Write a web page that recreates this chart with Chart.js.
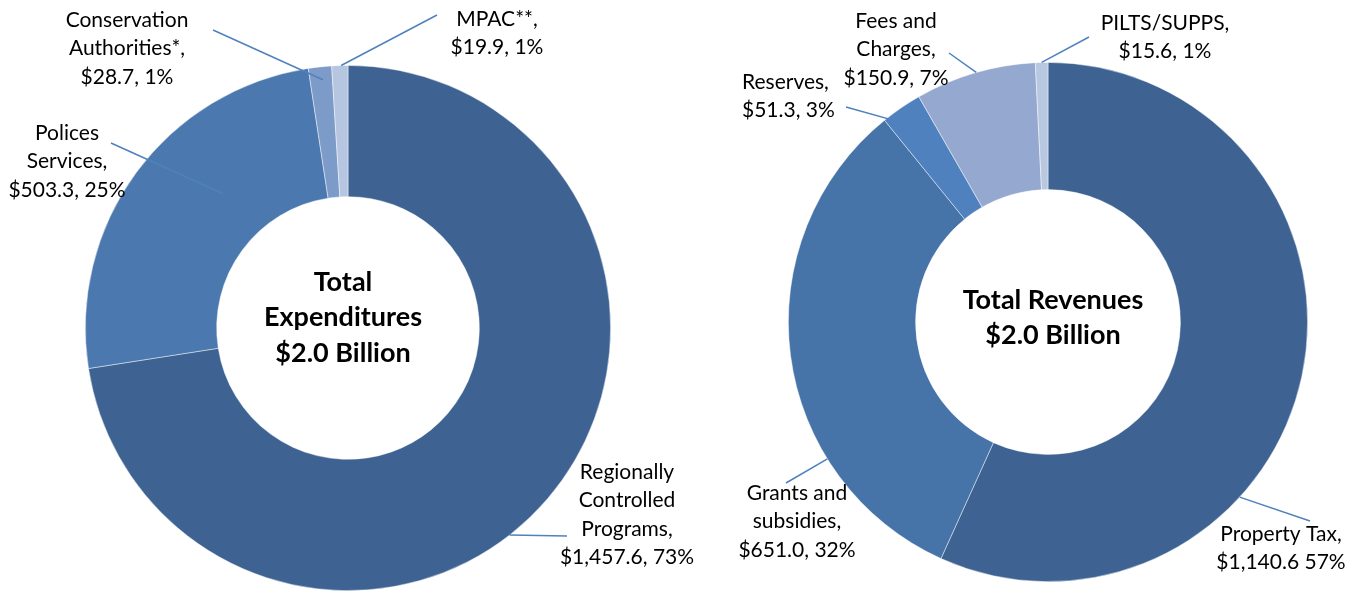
<!DOCTYPE html>
<html>
<head>
<meta charset="utf-8">
<script src="https://cdn.jsdelivr.net/npm/chart.js@4/dist/chart.umd.min.js"></script>
<style>
  html, body { margin: 0; padding: 0; background: #fff; }
  #wrap { position: relative; width: 1363px; height: 592px; }
  canvas { position: absolute; top: 0; }
</style>
</head>
<body>
<div id="wrap">
  <canvas id="expChart" width="700" height="592" style="left:0"></canvas>
  <canvas id="revChart" width="663" height="592" style="left:700px"></canvas>
</div>
<script>
// Expenditures ($ millions)
const expCategories = ["Regionally Controlled Programs", "Polices Services", "Conservation Authorities*", "MPAC**"];
const expValues = [1457.6, 503.3, 28.7, 19.9];
const expLabels = [
  ["Regionally", "Controlled", "Programs,", "$1,457.6, 73%"],
  ["Polices", "Services,", "$503.3, 25%"],
  ["Conservation", "Authorities*,", "$28.7, 1%"],
  ["MPAC**,", "$19.9, 1%"],
];
const expCenter = ["Total", "Expenditures", "$2.0 Billion"];

// Revenues ($ millions)
const revCategories = ["Property Tax", "Grants and subsidies", "Reserves", "Fees and Charges", "PILTS/SUPPS"];
const revValues = [1140.6, 651.0, 51.3, 150.9, 15.6];
const revLabels = [
  ["Property Tax,", "$1,140.6 57%"],
  ["Grants and", "subsidies,", "$651.0, 32%"],
  ["Reserves,", "$51.3, 3%"],
  ["Fees and", "Charges,", "$150.9, 7%"],
  ["PILTS/SUPPS,", "$15.6, 1%"],
];
const revCenter = ["Total Revenues", "$2.0 Billion"];

// label placement: text pos (x, y, align), leader start (lx, ly), leader end on arc (t along arc, rf of outer radius)
const expLayout = [
  { x: 627, y: 472, lx: 567, ly: 536, t: 0.544, rf: 1.0 },
  { x: 67, y: 133, lx: 111, ly: 143, t: 0.62, rf: 0.70 },
  { x: 127, y: 20, lx: 213, ly: 30, t: 0.57, rf: 0.95 },
  { x: 497, y: 19, lx: 437, ly: 15, t: 0.58, rf: 1.0 },
];
const revLayout = [
  { x: 581, y: 534, lx: 610, ly: 521, t: 0.648, rf: 1.0 },
  { x: 97, y: 493, lx: 86, ly: 483, t: 0.29, rf: 1.0 },
  { x: 42, y: 82, align: "left", lx: 146, ly: 107, t: 0.42, rf: 0.93 },
  { x: 196, y: 21, lx: 249, ly: 53, t: 0.51, rf: 1.0 },
  { x: 465, y: 23, lx: 389, ly: 37, t: 0.5, rf: 1.0 },
];

function leaderLabels(texts, layout, center, cx, cy) {
  return {
    id: "leaderLabels",
    afterDatasetsDraw(chart) {
      const ctx = chart.ctx;
      const arcs = chart.getDatasetMeta(0).data;
      ctx.save();
      layout.forEach((it, i) => {
        const arc = arcs[i];
        const a = arc.startAngle + (arc.endAngle - arc.startAngle) * it.t;
        const r = arc.outerRadius * it.rf;
        ctx.strokeStyle = "#4F81BD";
        ctx.lineWidth = 1.5;
        ctx.beginPath();
        ctx.moveTo(it.lx, it.ly);
        ctx.lineTo(arc.x + Math.cos(a) * r, arc.y + Math.sin(a) * r);
        ctx.stroke();
        ctx.fillStyle = "#000";
        ctx.font = "21px Lato";
        ctx.textAlign = it.align || "center";
        ctx.textBaseline = "middle";
        texts[i].forEach((ln, k) => ctx.fillText(ln, it.x, it.y + k * 28.5));
      });
      // centre title
      ctx.font = "bold 27px Lato";
      ctx.textAlign = "center";
      ctx.textBaseline = "middle";
      center.forEach((ln, k) => ctx.fillText(ln, cx, cy + k * 35.5));
      ctx.restore();
    },
  };
}

new Chart(document.getElementById("expChart"), {
  type: "doughnut",
  data: {
    labels: expCategories,
    datasets: [
      {
        data: expValues,
        backgroundColor: ["#3E6393", "#4A78AF", "#7D9BC9", "#B6C5E0"],
        borderColor: "rgba(255,255,255,0.6)",
        borderWidth: 0.75,
      },
    ],
  },
  options: {
    responsive: false,
    animation: false,
    cutout: "50%",
    layout: { padding: { top: 65, bottom: 1, left: 85, right: 89 } },
    plugins: { legend: { display: false }, tooltip: { enabled: false } },
  },
  plugins: [leaderLabels(expLabels, expLayout, expCenter, 343, 282)],
});

new Chart(document.getElementById("revChart"), {
  type: "doughnut",
  data: {
    labels: revCategories,
    datasets: [
      {
        data: revValues,
        backgroundColor: ["#3E6393", "#4673A8", "#4E81BD", "#95A9D0", "#B9C8E1"],
        borderColor: "rgba(255,255,255,0.6)",
        borderWidth: 0.75,
      },
    ],
  },
  options: {
    responsive: false,
    animation: false,
    cutout: "51%",
    layout: { padding: { top: 62, bottom: 10, left: 88, right: 55 } },
    plugins: { legend: { display: false }, tooltip: { enabled: false } },
  },
  plugins: [leaderLabels(revLabels, revLayout, revCenter, 353, 300)],
});
</script>
</body>
</html>
